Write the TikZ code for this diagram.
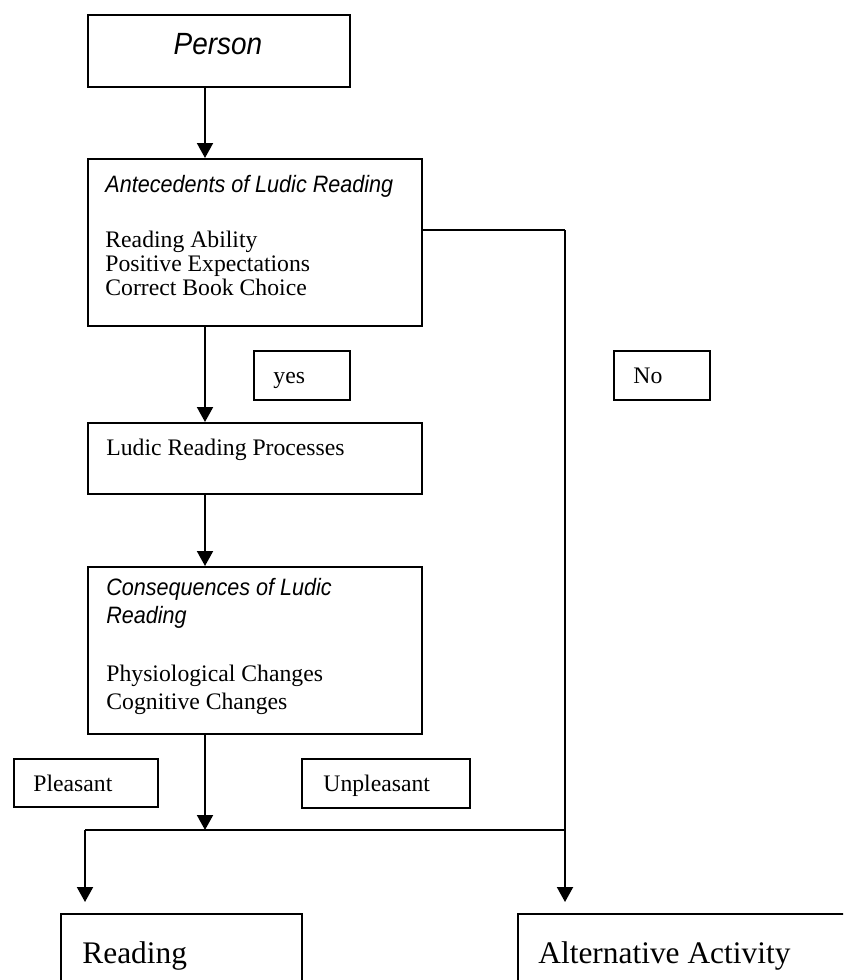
\documentclass[tikz,border=0pt]{standalone}
\usepackage{fontspec}
\setmainfont{Liberation Serif}
\newfontfamily\headfont[FakeStretch=0.91]{Liberation Sans}
\usetikzlibrary{arrows.meta,calc,positioning}
\tikzset{
    flowbox/.style={draw=black,line width=1pt,rectangle,anchor=north west,inner sep=0pt},
    bodytext/.style={anchor=base west,inner sep=0pt,font=\fontsize{11.85pt}{14pt}\selectfont},
    headtext/.style={anchor=base west,inner sep=0pt,font=\headfont\itshape\fontsize{11.85pt}{14pt}\selectfont},
    persontext/.style={anchor=base,inner sep=0pt,font=\headfont\itshape\fontsize{15.35pt}{18pt}\selectfont},
    bigtext/.style={anchor=base west,inner sep=0pt,font=\fontsize{15.7pt}{18pt}\selectfont},
    flowarrow/.style={line width=1pt,draw=black,-{Triangle[length=7.5pt,width=8pt]}},
    flowline/.style={line width=0.75pt,draw=black}
}

\begin{document}
\begin{tikzpicture}[x=0.5pt,y=-0.5pt]
  \useasboundingbox (0,0) rectangle (843,980);
  \clip (0,0) rectangle (843,980);

  % main column
  \node[flowbox,minimum width=131pt,minimum height=36pt]   (person) at (87,14) {};
  \node[flowbox,minimum width=167pt,minimum height=83.5pt] (ante)   at (87,158) {};
  \node[flowbox,minimum width=167pt,minimum height=35.5pt] (ludic)  at (87,422) {};
  \node[flowbox,minimum width=167pt,minimum height=83.5pt] (conseq) at (87,566) {};

  % small label boxes
  \node[flowbox,minimum width=48pt,minimum height=24.5pt] (yesbox)   at (253,350) {};
  \node[flowbox,minimum width=48pt,minimum height=24.5pt] (nobox)    at (613,350) {};
  \node[flowbox,minimum width=72pt,minimum height=24pt]   (pleasbox) at (13,758) {};
  \node[flowbox,minimum width=84pt,minimum height=24.5pt] (unplbox)  at (301,758) {};

  % outcome boxes (cut off by the page)
  \node[flowbox,minimum width=120.5pt,minimum height=60pt] (reading) at (60,913) {};
  \node[flowbox,minimum width=190pt,minimum height=60pt]   (alt)     at (517,913) {};

  % texts
  \node[persontext] (persontxt) at (218,54) {Person};
  \node[headtext] (antehead) at (105,192) {Antecedents of Ludic Reading};
  \foreach \y/\t [count=\i] in {247/Reading Ability,271/Positive Expectations,295/Correct Book Choice}{
    \node[bodytext] (ante\i) at (105,\y) {\t};
  }
  \node[bodytext] (ludictxt) at (106,455) {Ludic Reading Processes};
  \node[headtext] (conshead1) at (106,595) {Consequences of Ludic};
  \node[headtext] (conshead2) at (106,623) {Reading};
  \node[bodytext] (cons1) at (106,681) {Physiological Changes};
  \node[bodytext] (cons2) at (106,709) {Cognitive Changes};

  \node[bodytext] (yestxt)   at (273,383) {yes};
  \node[bodytext] (notxt)    at (633,383) {No};
  \node[bodytext] (pleastxt) at (33,791)  {Pleasant};
  \node[bodytext] (unpltxt)  at (323,791) {Unpleasant};

  \node[bigtext] (readtxt) at (82,963)  {Reading};
  \node[bigtext] (alttxt)  at (538,963) {Alternative Activity};

  % connectors
  \coordinate (spine) at (205,0);
  \coordinate (merge) at (205,830);
  \coordinate (noturn) at (565,230);
  \coordinate (leftturn) at (85,830);

  \draw[flowarrow] (person.south -| spine) -- (ante.north -| spine);
  \draw[flowarrow] (ante.south -| spine) -- (ludic.north -| spine);
  \draw[flowarrow] (ludic.south -| spine) -- (conseq.north -| spine);
  \draw[flowarrow] (conseq.south -| spine) -- (merge);

  \draw[flowline] (ante.east |- noturn) -- (noturn);
  \draw[flowarrow,shorten >=5.5pt] (noturn) -- (alt.north -| noturn);
  \draw[flowline] (noturn |- merge) -- (leftturn);
  \draw[flowarrow,shorten >=5.5pt] (leftturn) -- (reading.north -| leftturn);
\end{tikzpicture}
\end{document}
